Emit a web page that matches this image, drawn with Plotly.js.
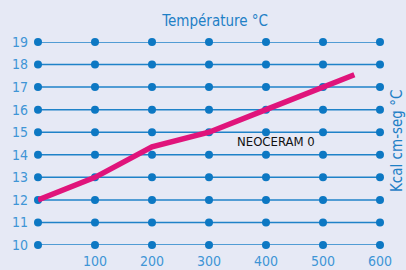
<!DOCTYPE html>
<html><head><meta charset="utf-8">
<script src="https://cdn.plot.ly/plotly-3.0.1.min.js"></script>
<style>html,body{margin:0;padding:0;background:#e6e9f5;}#c{width:406px;height:270px;}</style>
</head><body><div id="c"></div>
<script>
const gridX = [0, 100, 200, 300, 400, 500, 600];
const gridY = [10, 11, 12, 13, 14, 15, 16, 17, 18, 19];
const xTickVals = [100, 200, 300, 400, 500, 600];
const curveX = [0, 100, 200, 300, 400, 500, 555];
const curveY = [12, 13, 14.35, 15, 16, 17, 17.55];
const seriesName = 'NEOCERAM 0';

const blue = '#0d78c3';
const traces = gridY.map(y => ({
  x: gridX, y: gridX.map(() => y), mode: 'lines+markers', type: 'scatter',
  line: {color: '#1f82c8', width: 1.5}, marker: {color: blue, size: 8},
  cliponaxis: false, hoverinfo: 'skip', showlegend: false
}));
traces.push({x: curveX, y: curveY, mode: 'lines', type: 'scatter',
  line: {color: '#e0147b', width: 5.5}, cliponaxis: false, showlegend: false});

const font = 'DejaVu Sans Condensed, sans-serif';
Plotly.newPlot('c', traces, {
  width: 406, height: 270,
  paper_bgcolor: '#e6e9f5', plot_bgcolor: '#e6e9f5',
  margin: {l: 38, r: 26, t: 42, b: 25},
  title: {text: 'Température °C', font: {family: font, size: 15, color: '#1f80c6'}, x: 0.53, xanchor: 'center', y: 0.925, yanchor: 'middle'},
  xaxis: {range: [0, 600], tickvals: xTickVals, ticktext: xTickVals.map(String), showgrid: false, zeroline: false, showline: false, ticks: '',
    tickfont: {family: font, size: 14, color: '#3f95d6'}, ticklabelstandoff: 6},
  yaxis: {range: [10, 19], tickvals: gridY, showgrid: false, zeroline: false, showline: false, ticks: '',
    tickfont: {family: font, size: 14, color: '#3f95d6'}, ticklabelstandoff: 9},
  annotations: [
    {x: 417, y: 14.6, xref: 'x', yref: 'y', text: seriesName, showarrow: false, font: {family: font, size: 13, color: '#111'}},
    {x: (397 - 38) / (406 - 64), y: (245 - 141) / 203, xref: 'paper', yref: 'paper', xanchor: 'center', yanchor: 'middle',
      text: 'Kcal cm-seg °C', showarrow: false, textangle: -90,
      font: {family: font, size: 15, color: '#1f80c6'}}
  ]
}, {displayModeBar: false, staticPlot: true});
</script></body></html>
